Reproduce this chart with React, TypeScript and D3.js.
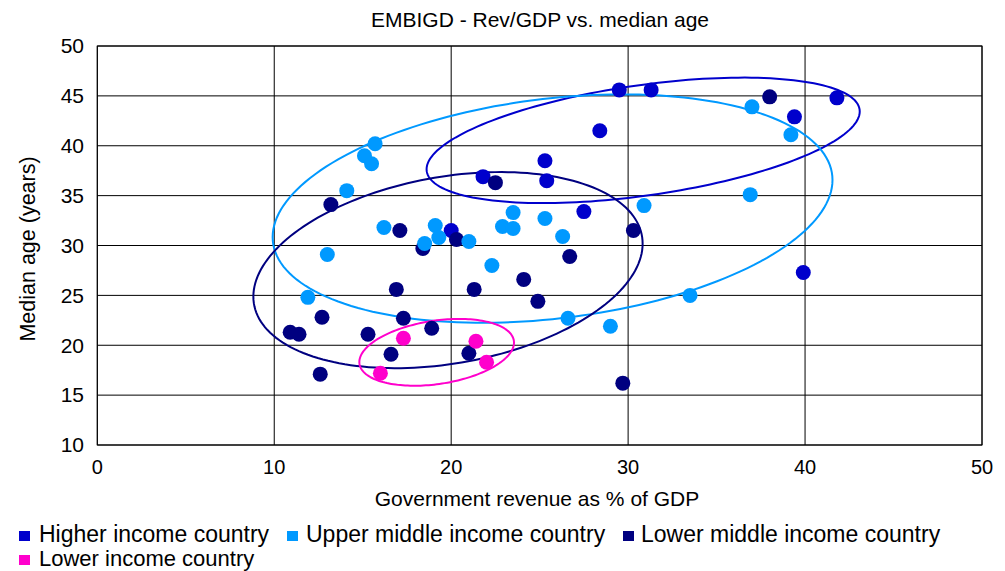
import React from "react";
import * as d3 from "d3";

const xTicks = [0, 10, 20, 30, 40, 50];
const yTicks = [10, 15, 20, 25, 30, 35, 40, 45, 50];

const seriesNames = [
  "Higher income country",
  "Upper middle income country",
  "Lower middle income country",
  "Lower income country",
];
const seriesColors = ["#0000CC", "#0099FF", "#000080", "#FF00CC"];

const higherX = [29.5, 31.3, 41.8, 39.4, 28.4, 25.3, 25.4, 21.8, 27.5, 39.9, 20.0];
const higherY = [45.6, 45.6, 44.8, 42.9, 41.5, 38.5, 36.5, 36.9, 33.4, 27.3, 31.5];

const upperMidX = [37.0, 39.2, 15.7, 15.1, 15.5, 14.1, 33.5, 36.9, 30.9, 25.3, 26.3, 23.5, 22.9, 23.5, 16.2, 19.1, 19.3, 18.5, 21.0, 13.0, 22.3, 11.9, 26.6, 29.0];
const upperMidY = [43.9, 41.1, 40.2, 39.0, 38.2, 35.5, 25.0, 35.1, 34.0, 32.7, 30.9, 33.3, 31.9, 31.7, 31.8, 32.0, 30.8, 30.2, 30.4, 29.1, 28.0, 24.8, 22.7, 21.9];

const lowerMidX = [38.0, 22.5, 13.2, 17.1, 20.3, 18.4, 30.3, 26.7, 24.1, 24.9, 21.3, 16.9, 17.3, 18.9, 12.7, 10.9, 11.4, 15.3, 16.6, 21.0, 12.6, 29.7];
const lowerMidY = [44.9, 36.3, 34.1, 31.5, 30.6, 29.7, 31.5, 28.9, 26.6, 24.4, 25.6, 25.6, 22.7, 21.7, 22.8, 21.3, 21.1, 21.1, 19.1, 19.2, 17.1, 16.2];

const lowerX = [17.3, 21.4, 22.0, 16.0];
const lowerY = [20.7, 20.4, 18.3, 17.2];

// ellipse: center x, center y, half x-extent, half y-extent, correlation
const ellipseCX = [30.85, 25.73, 19.82, 19.18];
const ellipseCY = [40.54, 33.7, 27.53, 19.29];
const ellipseA = [12.24, 15.82, 11.0, 4.37];
const ellipseB = [6.29, 11.45, 9.83, 3.35];
const ellipseRho = [0.46, 0.25, 0.27, 0.29];

const FONT = "'Liberation Sans', Arial, sans-serif";

export default function App() {
  const W = 1005;
  const H = 571;
  const x = d3.scaleLinear().domain([0, 50]).range([97.3, 982]);
  const y = d3.scaleLinear().domain([10, 50]).range([445, 46]);

  const series = [
    { xs: higherX, ys: higherY, c: 0 },
    { xs: lowerMidX, ys: lowerMidY, c: 2 },
    { xs: upperMidX, ys: upperMidY, c: 1 },
    { xs: lowerX, ys: lowerY, c: 3 },
  ];

  const line = d3
    .line<[number, number]>()
    .x((d) => x(d[0]))
    .y((d) => y(d[1]))
    .curve(d3.curveLinearClosed);

  const ellipsePath = (i: number) => {
    const phi = Math.acos(ellipseRho[i]);
    const pts: [number, number][] = d3.range(0, 360, 2).map((deg) => {
      const t = (deg * Math.PI) / 180;
      return [
        ellipseCX[i] + ellipseA[i] * Math.cos(t),
        ellipseCY[i] + ellipseB[i] * Math.cos(t - phi),
      ];
    });
    return line(pts) || "";
  };

  const legendItems = [
    { i: 0, sx: 19, tx: 39, row: 0 },
    { i: 1, sx: 287, tx: 306, row: 0 },
    { i: 2, sx: 623, tx: 641, row: 0 },
    { i: 3, sx: 19, tx: 39, row: 1 },
  ];

  const [x0, x1] = x.range();
  const [y0, y1] = y.range();

  return (
    <svg width={W} height={H} style={{ position: "absolute", left: 0, top: 0, background: "#fff" }} fontFamily={FONT}>
      <rect x={0} y={0} width={W} height={H} fill="#fff" />
      <text x={540} y={27} textAnchor="middle" fontSize={21} fill="#000">
        EMBIGD - Rev/GDP vs. median age
      </text>
      {/* grid */}
      {xTicks.map((t) => (
        <line key={"gx" + t} x1={x(t)} x2={x(t)} y1={y1} y2={y0} stroke="#000" strokeWidth={1} />
      ))}
      {yTicks.map((t) => (
        <line key={"gy" + t} x1={x0} x2={x1} y1={y(t)} y2={y(t)} stroke="#000" strokeWidth={1} />
      ))}
      <rect x={x0} y={y1} width={x1 - x0} height={y0 - y1} fill="none" stroke="#000" strokeWidth={1} />
      {/* tick labels */}
      {yTicks.map((t) => (
        <text key={"ty" + t} x={84} y={y(t) + 7.3} textAnchor="end" fontSize={21} fill="#000">
          {t}
        </text>
      ))}
      {xTicks.map((t) => (
        <text key={"tx" + t} x={x(t)} y={474} textAnchor="middle" fontSize={20} fill="#000">
          {t}
        </text>
      ))}
      <text x={537} y={506} textAnchor="middle" fontSize={21} fill="#000">
        Government revenue as % of GDP
      </text>
      <text transform="translate(34.5,249) rotate(-90)" textAnchor="middle" fontSize={21.5} fill="#000">
        Median age (years)
      </text>
      {/* ellipses */}
      {[0, 1, 2, 3].map((i) => (
        <path key={"e" + i} d={ellipsePath(i)} fill="none" stroke={seriesColors[i]} strokeWidth={2} />
      ))}
      {/* points */}
      {series.map((s) =>
        s.xs.map((v, j) => (
          <circle key={"p" + s.c + "-" + j} cx={x(v)} cy={y(s.ys[j])} r={7.5} fill={seriesColors[s.c]} />
        ))
      )}
      {/* legend */}
      {legendItems.map((it) => (
        <g key={"l" + it.i}>
          <rect x={it.sx} y={531 + it.row * 24} width={11} height={10} fill={seriesColors[it.i]} />
          <text
            x={it.tx}
            y={542 + it.row * 23.5}
            fontSize={it.row === 1 ? 22 : 23}
            fill="#000"
          >
            {seriesNames[it.i]}
          </text>
        </g>
      ))}
    </svg>
  );
}
